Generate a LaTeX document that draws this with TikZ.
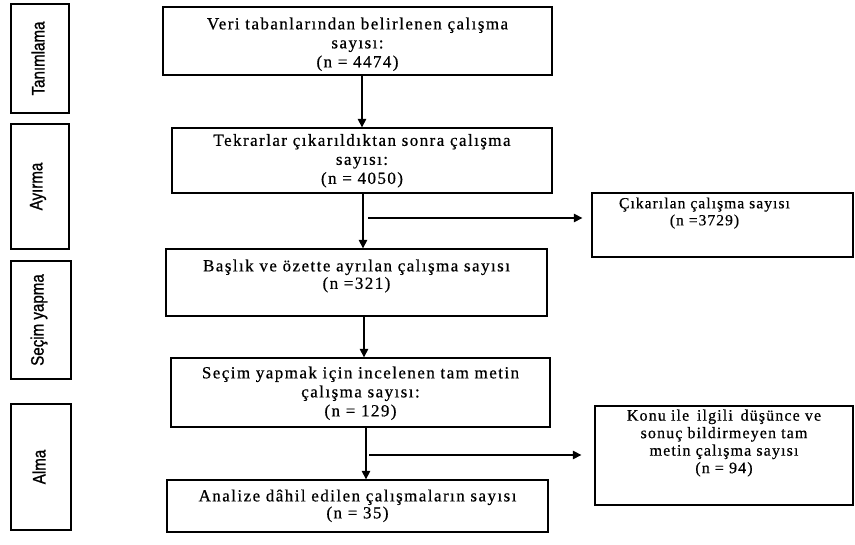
\documentclass[tikz,border=0pt]{standalone}
\usepackage{fontspec}
\usetikzlibrary{arrows.meta}
\newfontfamily\boxfont[LetterSpace=8.5,FakeBold=0.6]{Liberation Serif}
\newfontfamily\sboxfont[LetterSpace=7,FakeBold=0.6]{Liberation Serif}
\newfontfamily\sidefont[FakeBold=1.2]{Liberation Sans}
\begin{document}
\begin{tikzpicture}[x=1pt,y=-1pt,
  box/.style={draw=black,line width=1.3pt,rectangle,inner sep=0pt},
  txt/.style={font=\boxfont\fontsize{17}{19}\selectfont,align=center,inner sep=0pt,anchor=north},
  lbl/.style={font=\sidefont\fontsize{18}{20}\selectfont,inner sep=0pt,rotate=90},
  arr/.style={line width=1.2pt,-{Triangle[length=8.5pt,width=8.5pt]}}]
\useasboundingbox (0,0) rectangle (855,545);
% stage boxes
\node[box,minimum width=58pt,minimum height=109pt] (l1) at (40,58.5) {};
\node[box,minimum width=58pt,minimum height=125pt] (l2) at (40,186.5) {};
\node[box,minimum width=60pt,minimum height=118pt] (l3) at (41,320) {};
\node[box,minimum width=60pt,minimum height=126pt] (l4) at (41,467) {};
\node[lbl] (tl1) at ([xshift=-2pt]l1.center) {\scalebox{0.84}[1]{Tanımlama}};
\node[lbl] (tl2) at ([xshift=-2pt]l2.center) {\scalebox{0.84}[1]{Ayırma}};
\node[lbl] (tl3) at ([xshift=-2pt]l3.center) {\scalebox{0.84}[1]{Seçim yapma}};
\node[lbl] (tl4) at ([xshift=-2pt]l4.center) {\scalebox{0.84}[1]{Alma}};
% main boxes
\node[box,minimum width=389pt,minimum height=68pt] (b1) at (357.5,41) {};
\node[box,minimum width=380pt,minimum height=65pt] (b2) at (362,160.5) {};
\node[box,minimum width=381pt,minimum height=67pt] (b3) at (356.5,282.5) {};
\node[box,minimum width=379pt,minimum height=69pt] (b4) at (360.5,392.5) {};
\node[box,minimum width=381pt,minimum height=52pt] (b5) at (357.5,506) {};
\node[box,minimum width=261pt,minimum height=64pt] (s1) at (722.5,225) {};
\node[box,minimum width=258pt,minimum height=99pt] (s2) at (724,455.5) {};
% texts
\node[txt] (t1) at ([yshift=-11pt]b1.north) {Veri tabanlarından belirlenen çalışma\\sayısı:\\(n = 4474)};
\node[txt] (t2) at ([yshift=-6.5pt]b2.north) {Tekrarlar çıkarıldıktan sonra çalışma\\sayısı:\\(n = 4050)};
\node[txt,font=\boxfont\fontsize{17}{17.5}\selectfont] (t3) at ([yshift=-11pt]b3.north) {Başlık ve özette ayrılan çalışma sayısı\\(n =321)};
\node[txt] (t4) at ([yshift=-9pt]b4.north) {Seçim yapmak için incelenen tam metin\\çalışma sayısı:\\(n = 129)};
\node[txt,font=\boxfont\fontsize{17}{17}\selectfont] (t5) at ([yshift=-10pt]b5.north) {Analize dâhil edilen çalışmaların sayısı\\(n = 35)};
\node[txt,font=\sboxfont\fontsize{15.5}{17}\selectfont] (ts1) at ([xshift=-18pt,yshift=-5pt]s1.north) {Çıkarılan çalışma sayısı\\(n =3729)};
\node[txt,font=\sboxfont\fontsize{16}{17.5}\selectfont] (ts2) at ([yshift=-4pt]s2.north) {Konu ile\, ilgili\, düşünce ve\\sonuç bildirmeyen tam\\metin çalışma sayısı\\(n = 94)};
% vertical arrows
\draw[arr] ([xshift=4.5pt]b1.south) -- (b2.north);
\draw[arr] ([xshift=1pt]b2.south) coordinate (v2) -- (v2 |- b3.north);
\draw[arr] ([xshift=7.5pt]b3.south) coordinate (v3) -- (v3 |- b4.north);
\draw[arr] ([xshift=5.5pt]b4.south) coordinate (v4) -- (v4 |- b5.north);
% side arrows
\coordinate (h1) at (368,218);
\coordinate (h2) at (369,455);
\draw[arr,shorten >=9pt] (h1) -- (h1 -| s1.west);
\draw[arr,shorten >=13pt] (h2) -- (h2 -| s2.west);
\end{tikzpicture}
\end{document}
